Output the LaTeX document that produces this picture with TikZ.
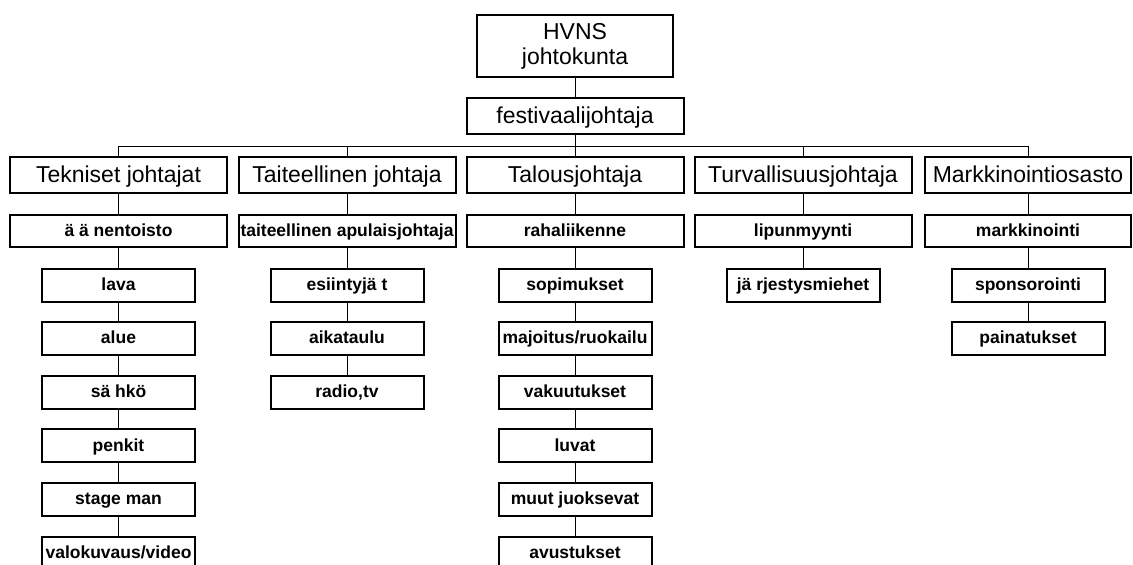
\documentclass[tikz,border=0pt]{standalone}
\usepackage{fontspec}
\setmainfont{Liberation Sans}
\usepackage{tikz}
\usetikzlibrary{positioning,calc}
\tikzset{board/.style={rectangle, draw=black, line width=2pt, fill=white, minimum width=196pt, minimum height=62pt, align=center, inner sep=1pt, font=\fontsize{23}{25}\selectfont},
head/.style={rectangle, draw=black, line width=2pt, fill=white, minimum width=217pt, minimum height=36pt, inner sep=1pt, text height=18pt, text depth=4pt, font=\fontsize{23}{25}\selectfont},
lead/.style={rectangle, draw=black, line width=2pt, fill=white, minimum width=217pt, minimum height=32pt, inner sep=1pt, text height=14pt, text depth=3.5pt, font=\bfseries\fontsize{17.5}{20}\selectfont},
sub/.style={rectangle, draw=black, line width=2pt, fill=white, minimum width=153pt, minimum height=33pt, inner sep=1pt, text height=14pt, text depth=3.5pt, font=\bfseries\fontsize{17.5}{20}\selectfont},
link/.style={line width=1pt}}

\begin{document}
\begin{tikzpicture}[x=1pt,y=-1pt]
\useasboundingbox (0,0) rectangle (1133,565);
% top of the tree
\node[board] (hvns) at (575,46) {HVNS\\johtokunta};
\node[head] (fest) at (575,116) {festivaalijohtaja};
\coordinate (bus) at (0,146);
% the five departments
\node[head] (tek) at (118.5,175) {Tekniset johtajat};
\node[head] (tai) at (347,175) {Taiteellinen johtaja};
\node[head] (tal) at (575,175) {Talousjohtaja};
\node[head] (tur) at (803,175) {Turvallisuusjohtaja};
\node[head,minimum width=206pt] (mar) at (1028,175) {Markkinointiosasto};
\draw[link] (hvns) -- (fest);
\draw[link] (fest.south) -- (fest.south |- bus);
\draw[link] (tek.north) |- (mar.north |- bus) -- (mar.north);
\foreach \n in {tai,tal,tur}
  \draw[link] (\n.north) -- (\n.north |- bus);
% second row
\node[lead] (tek2) at (118.5,231) {ä ä nentoisto};
\node[lead] (tai2) at (347,231) {taiteellinen apulaisjohtaja};
\node[lead] (tal2) at (575,231) {rahaliikenne};
\node[lead] (tur2) at (803,231) {lipunmyynti};
\node[lead,minimum width=206pt] (mar2) at (1028,231) {markkinointi};
\foreach \n in {tek,tai,tal,tur,mar}
  \draw[link] (\n) -- (\n2);
% the columns below
\foreach \txt [count=\i from 3, remember=\i as \j (initially 2)] in {lava,alue,sä hkö,penkit,stage man,valokuvaus/video}{
  \node[sub] (tek\i) at (118.5,{285+53.6*(\i-3)}) {\txt};
  \draw[link] (tek\j) -- (tek\i);
}
\foreach \txt [count=\i from 3, remember=\i as \j (initially 2)] in {esiintyjä t,aikataulu,{radio,tv}}{
  \node[sub] (tai\i) at (347,{285+53.6*(\i-3)}) {\txt};
  \draw[link] (tai\j) -- (tai\i);
}
\foreach \txt [count=\i from 3, remember=\i as \j (initially 2)] in {sopimukset,majoitus/ruokailu,vakuutukset,luvat,muut juoksevat,avustukset}{
  \node[sub] (tal\i) at (575,{285+53.6*(\i-3)}) {\txt};
  \draw[link] (tal\j) -- (tal\i);
}
\node[sub] (tur3) at (803,285) {jä rjestysmiehet};
\draw[link] (tur2) -- (tur3);
\foreach \txt [count=\i from 3, remember=\i as \j (initially 2)] in {sponsorointi,painatukset}{
  \node[sub] (mar\i) at (1028,{285+53.6*(\i-3)}) {\txt};
  \draw[link] (mar\j) -- (mar\i);
}
\end{tikzpicture}
\end{document}
